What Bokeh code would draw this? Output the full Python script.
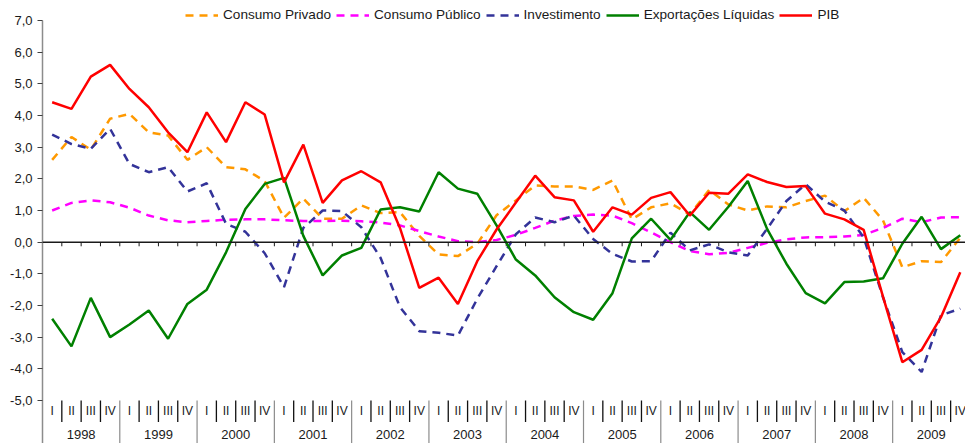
from bokeh.plotting import figure
from bokeh.models import (Range1d, FixedTicker, CustomJSTickFormatter, Legend,
                          LegendItem, ColumnDataSource, Span)
from bokeh.core.properties import value
from bokeh.embed import file_html
from bokeh.resources import INLINE

# ---------------- data ----------------
years = ["1998", "1999", "2000", "2001", "2002", "2003",
         "2004", "2005", "2006", "2007", "2008", "2009"]
quarters = ["I", "II", "III", "IV"]

consumo_privado = [2.6, 3.32, 2.92, 3.9, 4.05, 3.47, 3.37, 2.6,
                   3.0, 2.37, 2.3, 1.93, 0.77, 1.38, 0.74, 0.74,
                   1.16, 0.92, 0.95, 0.2, -0.39, -0.44, -0.05, 0.85,
                   1.32, 1.79, 1.76, 1.76, 1.65, 1.95, 0.72, 1.1,
                   1.23, 0.87, 1.65, 1.19, 1.0, 1.13, 1.1, 1.3,
                   1.47, 0.98, 1.4, 0.69, -0.79, -0.6, -0.63, 0.14]
consumo_publico = [1.0, 1.24, 1.32, 1.26, 1.09, 0.84, 0.69, 0.63,
                   0.67, 0.71, 0.72, 0.72, 0.69, 0.67, 0.67, 0.68,
                   0.66, 0.62, 0.53, 0.35, 0.18, 0.03, 0.0, 0.07,
                   0.23, 0.45, 0.68, 0.83, 0.87, 0.84, 0.6, 0.31,
                   0.0, -0.28, -0.38, -0.34, -0.18, -0.02, 0.09, 0.15,
                   0.16, 0.18, 0.23, 0.45, 0.74, 0.63, 0.78, 0.79]
investimento = [3.4, 3.1, 2.95, 3.58, 2.47, 2.21, 2.37, 1.6,
                1.86, 0.58, 0.33, -0.35, -1.42, 0.45, 1.0, 0.98,
                0.47, -0.5, -2.05, -2.81, -2.86, -2.95, -1.79, -0.76,
                0.25, 0.78, 0.63, 0.84, 0.1, -0.37, -0.61, -0.6,
                0.3, -0.26, -0.07, -0.32, -0.42, 0.42, 1.3, 1.83,
                1.28, 1.0, 0.15, -1.74, -3.47, -4.1, -2.31, -2.1]
exportacoes = [-2.42, -3.29, -1.76, -3.0, -2.6, -2.16, -3.05, -1.95,
               -1.5, -0.32, 1.05, 1.84, 2.03, 0.2, -1.05, -0.42,
               -0.18, 1.03, 1.1, 0.97, 2.21, 1.69, 1.53, 0.53,
               -0.55, -1.05, -1.74, -2.21, -2.45, -1.61, 0.12, 0.74,
               0.07, 0.95, 0.39, 1.12, 1.93, 0.42, -0.68, -1.61,
               -1.93, -1.26, -1.24, -1.14, -0.05, 0.8, -0.22, 0.22]
pib = [4.42, 4.21, 5.23, 5.6, 4.84, 4.26, 3.47, 2.84,
       4.1, 3.16, 4.42, 4.03, 1.89, 3.08, 1.24, 1.95,
       2.24, 1.89, 0.45, -1.44, -1.12, -1.95, -0.6, 0.4,
       1.25, 2.1, 1.42, 1.32, 0.33, 1.1, 0.87, 1.4,
       1.58, 0.84, 1.56, 1.53, 2.14, 1.9, 1.74, 1.77,
       0.9, 0.72, 0.39, -1.72, -3.79, -3.4, -2.37, -0.95]

y_ticks = [-5, -4, -3, -2, -1, 0, 1, 2, 3, 4, 5, 6, 7]

# ---------------- derived positions ----------------
n = len(pib)
xq = [i + 0.5 for i in range(n)]
q_labels = [quarters[i % 4] for i in range(n)]
year_x = [4 * j + 2 for j in range(len(years))]
q_sep = [k for k in range(1, n) if k % 4 != 0]
y_sep = [k for k in range(4, n + 1, 4)]
zero_ticks = list(range(1, n + 1))

Y_AXIS_TOP = 7.0
Y_TOP = 7.632
Y_BOT = -6.358
FONT = "Liberation Sans"

p = figure(width=965, height=443, output_backend="svg", toolbar_location=None,
           x_range=Range1d(0, 47.77), y_range=Range1d(Y_BOT, Y_TOP),
           x_axis_location=None, min_border_left=42, min_border_right=0,
           min_border_top=0, min_border_bottom=0)
p.outline_line_color = None
p.xgrid.visible = False
p.ygrid.visible = False
p.background_fill_color = "white"
p.border_fill_color = "white"

ya = p.yaxis[0]
ya.ticker = FixedTicker(ticks=y_ticks)
ya.bounds = (Y_BOT, Y_AXIS_TOP)
ya.formatter = CustomJSTickFormatter(code="return tick.toFixed(1).replace('.', ',');")
ya.minor_tick_line_color = None
ya.major_tick_in = 0
ya.major_tick_out = 5
ya.major_tick_line_color = "#404040"
ya.axis_line_color = "#8c8c8c"
ya.axis_line_width = 1.5
ya.major_label_standoff = 5
ya.major_label_text_font = FONT
ya.major_label_text_font_size = "13px"
ya.major_label_text_color = "#1a1a1a"

# zero line and its ticks
p.add_layout(Span(location=0, dimension="width", line_color="#1a1a1a", line_width=1.5))
p.segment(x0=zero_ticks, x1=zero_ticks, y0=[0] * len(zero_ticks),
          y1=[-0.13] * len(zero_ticks), line_color="#1a1a1a", line_width=1)

# category area separators
p.segment(x0=q_sep, x1=q_sep, y0=[-5] * len(q_sep), y1=[-5.68] * len(q_sep),
          line_color="#111111", line_width=1.3)
p.segment(x0=y_sep, x1=y_sep, y0=[-5] * len(y_sep), y1=[Y_BOT] * len(y_sep),
          line_color="#8c8c8c", line_width=1.2)

p.text(x=xq, y=[-5.33] * n, text=q_labels, text_align="center",
       text_baseline="middle", text_font=value(FONT), text_font_size="12px",
       text_color="#1a1a1a")
p.text(x=year_x, y=[-6.07] * len(years), text=years, text_align="center",
       text_baseline="middle", text_font=value(FONT), text_font_size="13px",
       text_color="#1a1a1a")

src = ColumnDataSource(dict(x=xq, cpriv=consumo_privado, cpub=consumo_publico,
                            inv=investimento, exp=exportacoes, pib=pib))
dash = "8 6"
r1 = p.line("x", "cpriv", source=src, line_color="#FF9900", line_width=2.5, line_dash=dash)
r2 = p.line("x", "cpub", source=src, line_color="#FF00FF", line_width=2.5, line_dash=dash)
r3 = p.line("x", "inv", source=src, line_color="#333399", line_width=2.5, line_dash=dash)
r4 = p.line("x", "exp", source=src, line_color="#008000", line_width=2.5)
r5 = p.line("x", "pib", source=src, line_color="#FF0000", line_width=2.5)

legend = Legend(items=[LegendItem(label="Consumo Privado", renderers=[r1]),
                       LegendItem(label="Consumo Público", renderers=[r2]),
                       LegendItem(label="Investimento", renderers=[r3]),
                       LegendItem(label="Exportações Líquidas", renderers=[r4]),
                       LegendItem(label="PIB", renderers=[r5])],
                orientation="horizontal", location=(143, 421),
                glyph_width=33, glyph_height=12, label_standoff=5, spacing=5,
                padding=0, margin=0, border_line_color=None,
                background_fill_alpha=0, label_height=12,
                label_text_font=FONT, label_text_font_size="13.6px",
                label_text_color="#1a1a1a")
p.add_layout(legend)

open("out.html", "w").write(file_html(p, INLINE))
